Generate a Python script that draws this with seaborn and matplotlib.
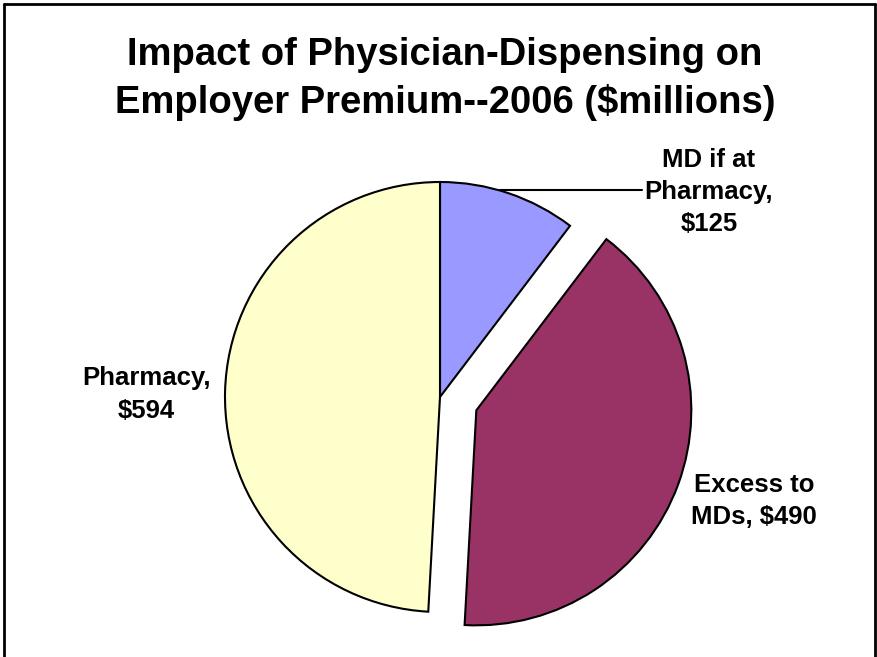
import matplotlib
matplotlib.use("Agg")
import matplotlib.pyplot as plt
from matplotlib.lines import Line2D
import seaborn as sns

# data
labels = ["MD if at\nPharmacy,\n$125", "Excess to\nMDs, $490", "Pharmacy,\n$594"]
values = [125, 490, 594]
colors = ["#9999FF", "#993366", "#FFFFCC"]
explode = [0, 0.18, 0]

sns.set_theme(style="white")
plt.rcParams['font.family'] = ['Liberation Sans', 'DejaVu Sans']
plt.rcParams['text.color'] = 'black'

W, H = 878, 657
fig = plt.figure(figsize=(W / 100, H / 100), dpi=100)

# pie centre (440, 397) px, radius 215 px; axes spans +/-1.5 data units
R = 215
span = 1.5
cx, cy = 440, H - 397
ax = fig.add_axes([(cx - R * span) / W, (cy - R * span) / H,
                   2 * R * span / W, 2 * R * span / H])
ax.pie(values, colors=colors, explode=explode, startangle=90, counterclock=False,
       wedgeprops=dict(edgecolor="black", linewidth=1.5))
ax.set_xlim(-span, span)
ax.set_ylim(-span, span)
ax.set_aspect("equal")
ax.axis("off")

txt = dict(fontsize=18.5, fontweight="bold", ha="center", va="center",
           linespacing=1.43, color="black")
ax.text(1.251, 0.952, labels[0], **txt)
ax.plot([0.28, 0.94], [0.963, 0.963], color="black", lw=1.5)
ax.text(1.460, -0.485, labels[1], **txt)
ax.text(-1.367, 0.012, labels[2], **txt)

fig.text(445 / W, 1 - 79 / H,
         "Impact of Physician-Dispensing on\nEmployer Premium--2006 ($millions)",
         ha="center", va="center", fontsize=27.5, fontweight="bold",
         linespacing=1.36, color="black")

# chart frame (left, top, right)
for xs, ys in [([3.5 / W, 3.5 / W], [0, 1 - 3.5 / H]),
               ([3.5 / W, 1 - 2.5 / W], [1 - 3.5 / H, 1 - 3.5 / H]),
               ([1 - 2.5 / W, 1 - 2.5 / W], [0, 1 - 3.5 / H])]:
    fig.add_artist(Line2D(xs, ys, color="black", lw=2))

fig.savefig("out.png", dpi=100)
